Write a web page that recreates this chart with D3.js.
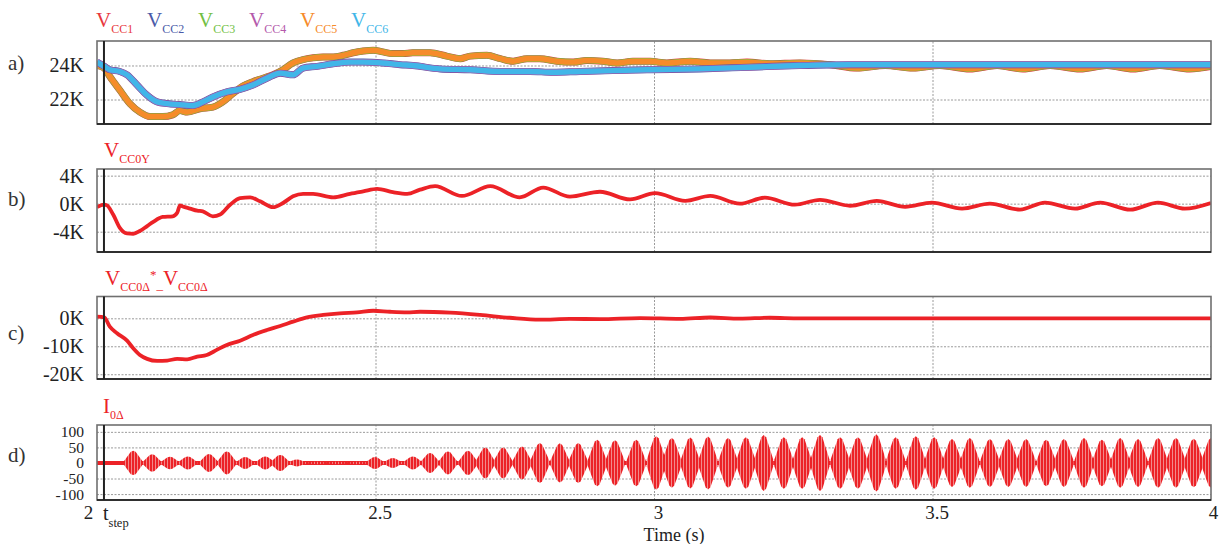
<!DOCTYPE html>
<html>
<head>
<meta charset="utf-8">
<script src="https://cdn.jsdelivr.net/npm/d3@7"></script>
<style>
  body { margin: 0; background: #fff; }
  svg, svg text, svg tspan { font-family: "Liberation Serif", "DejaVu Serif", serif !important; }
</style>
</head>
<body>
<svg width="1224" height="544"></svg>
<script>
// ---- data ----
const legendNames = ["CC1", "CC2", "CC3", "CC4", "CC5", "CC6"];
const legendColors = ["#e8383d", "#4a5aa8", "#72bf44", "#b45aab", "#f68b2a", "#41b6e8"];

// V_CC1 / V_CC3 / V_CC5 (orange group), values in K
const tGroupA = [2.000, 2.013, 2.023, 2.041, 2.059, 2.077, 2.095, 2.118, 2.136, 2.149, 2.162, 2.185, 2.208, 2.226, 2.244, 2.262, 2.280, 2.298, 2.316, 2.334, 2.352, 2.370, 2.388, 2.406, 2.424, 2.442, 2.460, 2.478, 2.496, 2.513, 2.531, 2.549, 2.567, 2.598, 2.628, 2.652, 2.670, 2.700, 2.724, 2.747, 2.772, 2.795, 2.826, 2.855, 2.880, 2.908, 2.934, 2.962, 2.993, 3.023, 3.065, 3.101, 3.136, 3.167, 3.208, 3.262, 3.316, 3.364, 3.415, 3.465, 3.513, 3.567, 3.616, 3.662, 3.711, 3.765, 3.813, 3.860, 3.908, 3.962, 4.000];
const vGroupA = [24.0, 23.85, 23.35, 22.55, 21.76, 21.26, 21.0, 21.0, 21.1, 21.35, 21.26, 21.46, 21.55, 21.86, 22.35, 22.8, 23.05, 23.25, 23.45, 23.75, 24.15, 24.35, 24.45, 24.5, 24.5, 24.6, 24.75, 24.85, 24.9, 24.8, 24.7, 24.7, 24.75, 24.75, 24.55, 24.4, 24.55, 24.6, 24.4, 24.25, 24.4, 24.4, 24.25, 24.2, 24.3, 24.25, 24.15, 24.25, 24.25, 24.15, 24.25, 24.15, 24.15, 24.2, 24.1, 24.15, 24.05, 23.85, 24.0, 23.85, 24.0, 23.8, 24.0, 23.8, 24.0, 23.8, 24.0, 23.8, 24.0, 23.8, 23.95];

// V_CC2 / V_CC4 / V_CC6 (cyan group), values in K
const tGroupB = [2.000, 2.013, 2.023, 2.041, 2.054, 2.072, 2.090, 2.108, 2.126, 2.149, 2.172, 2.190, 2.208, 2.233, 2.257, 2.280, 2.305, 2.329, 2.352, 2.370, 2.395, 2.424, 2.454, 2.478, 2.513, 2.544, 2.567, 2.616, 2.670, 2.724, 2.777, 2.819, 2.867, 2.926, 2.993, 3.083, 3.172, 3.262, 3.352, 3.442, 3.621, 3.801, 4.000];
const vGroupB = [24.2, 23.95, 23.75, 23.65, 23.45, 22.85, 22.25, 21.86, 21.76, 21.7, 21.65, 21.86, 22.15, 22.45, 22.6, 22.85, 23.25, 23.55, 23.45, 23.85, 23.95, 24.1, 24.2, 24.2, 24.15, 24.05, 24.0, 23.8, 23.75, 23.65, 23.65, 23.6, 23.65, 23.7, 23.75, 23.8, 23.9, 24.0, 24.05, 24.05, 24.05, 24.05, 24.05];

// V_CC0Y, values in K
const tCC0Y = [2.000, 2.013, 2.018, 2.029, 2.041, 2.054, 2.065, 2.077, 2.090, 2.101, 2.118, 2.136, 2.144, 2.149, 2.154, 2.167, 2.180, 2.190, 2.208, 2.221, 2.239, 2.257, 2.275, 2.293, 2.316, 2.334, 2.352, 2.370, 2.388, 2.424, 2.454, 2.478, 2.503, 2.531, 2.557, 2.580, 2.607, 2.655, 2.706, 2.759, 2.801, 2.849, 2.903, 2.957, 3.002, 3.056, 3.101, 3.154, 3.199, 3.253, 3.298, 3.352, 3.400, 3.451, 3.499, 3.553, 3.603, 3.657, 3.702, 3.756, 3.801, 3.855, 3.905, 3.953, 4.000];
const vCC0Y = [-0.5, -0.15, -0.25, -1.55, -3.45, -4.25, -4.3, -3.9, -3.2, -2.6, -1.9, -1.8, -1.3, -0.25, -0.4, -0.7, -1.0, -1.1, -1.8, -1.55, -0.15, 0.8, 0.9, 0.33, -0.5, 0.1, 1.05, 1.4, 1.4, 0.9, 1.4, 1.75, 2.1, 1.65, 1.4, 2.0, 2.5, 1.1, 2.5, 0.9, 2.3, 1.0, 1.7, 0.6, 1.5, 0.4, 1.1, 0.0, 0.85, -0.15, 0.55, -0.3, 0.4, -0.45, 0.15, -0.7, 0.0, -0.85, 0.15, -0.7, 0.15, -0.85, 0.15, -0.7, 0.1];

// V_CC0Δ* - V_CC0Δ, values in K
const tCC0D = [2.000, 2.013, 2.023, 2.036, 2.054, 2.065, 2.077, 2.090, 2.108, 2.126, 2.144, 2.162, 2.180, 2.197, 2.215, 2.233, 2.257, 2.280, 2.305, 2.329, 2.352, 2.377, 2.406, 2.436, 2.467, 2.496, 2.526, 2.557, 2.580, 2.634, 2.688, 2.741, 2.795, 2.849, 2.903, 2.975, 3.047, 3.101, 3.154, 3.208, 3.262, 3.442, 3.621, 3.801, 4.000];
const vCC0D = [0.6, 0.35, -3.0, -5.35, -8.0, -10.7, -13.1, -14.5, -15.25, -15.1, -14.5, -14.65, -13.7, -13.1, -11.3, -9.5, -8.0, -5.95, -4.2, -2.75, -1.2, 0.35, 1.2, 1.8, 2.15, 2.7, 2.35, 2.15, 2.35, 2.0, 1.2, 0.2, -0.5, -0.2, -0.3, 0.1, -0.2, 0.3, -0.1, 0.2, 0.0, 0.0, 0.0, 0.0, 0.0];

// I_0Δ: time of each beat burst and its peak amplitude
const tBurst = [2.065, 2.099, 2.131, 2.163, 2.201, 2.233, 2.266, 2.302, 2.329, 2.359, 2.395, 2.431, 2.467, 2.499, 2.531, 2.567, 2.598, 2.630, 2.666, 2.697, 2.729, 2.763, 2.795, 2.831, 2.864, 2.898, 2.930, 2.968, 3.004, 3.032, 3.065, 3.097, 3.133, 3.165, 3.197, 3.233, 3.266, 3.298, 3.334, 3.366, 3.399, 3.434, 3.470, 3.503, 3.535, 3.567, 3.603, 3.636, 3.668, 3.704, 3.736, 3.772, 3.804, 3.837, 3.869, 3.905, 3.937, 3.969, 4.000];
const aBurst = [39, 28, 20, 21, 29, 37, 19, 21, 26, 11, 4, 4, 4, 19, 16, 21, 32, 37, 39, 50, 50, 53, 64, 63, 64, 75, 73, 75, 86, 80, 82, 85, 80, 83, 90, 83, 83, 90, 83, 83, 92, 83, 86, 83, 77, 80, 77, 77, 77, 75, 77, 80, 75, 80, 77, 80, 80, 78, 80];

const tStep = 2.0125;
const xTicks = [2, 2.5, 3, 3.5, 4];
const xGrid = [2.5, 3, 3.5];

// ---- layout ----
const FONT = '"Liberation Serif", "DejaVu Serif", serif';
const svg = d3.select("svg").style("font-family", FONT);
const red = "#ec2227";
const x = d3.scaleLinear().domain([2, 4]).range([97, 1211]);

const panels = [
  { id: "a", top: 41, bottom: 124, domain: [20.56, 25.44], ticks: [22, 24], fmt: d => d + "K", labelY: 70, fs: 20 },
  { id: "b", top: 169, bottom: 252, domain: [-6.9, 4.95], ticks: [-4, 0, 4], fmt: d => d + "K", labelY: 206, fs: 20 },
  { id: "c", top: 296.5, bottom: 379, domain: [-21.7, 7.8], ticks: [-20, -10, 0], fmt: d => d + "K", labelY: 340, fs: 20 },
  { id: "d", top: 425, bottom: 500, domain: [-119, 122], ticks: [-100, -50, 0, 50, 100], fmt: d => d, labelY: 462, fs: 15.5 }
];

const defs = svg.append("defs");
const pat = defs.append("pattern").attr("id", "spikes")
  .attr("patternUnits", "userSpaceOnUse").attr("width", 3).attr("height", 10);
pat.append("rect").attr("width", 3).attr("height", 10).attr("fill", "#f4a3a3");
pat.append("rect").attr("width", 2.2).attr("height", 10).attr("fill", red);

// text with sub/superscripts; shift is offset from baseline
function richText(g, px, py, parts, color) {
  const t = g.append("text").attr("x", px).attr("y", py).attr("fill", color).style("font-family", FONT);
  let prev = 0;
  parts.forEach(p => {
    const s = p.shift || 0;
    t.append("tspan").attr("font-size", p.size).attr("dy", s - prev).text(p.text);
    prev = s;
  });
  return t;
}

panels.forEach(p => {
  p.y = d3.scaleLinear().domain(p.domain).range([p.bottom, p.top]);
  const g = svg.append("g");
  p.g = g;

  defs.append("clipPath").attr("id", "clip-" + p.id)
    .append("rect").attr("x", x(2)).attr("y", p.top).attr("width", x(4) - x(2)).attr("height", p.bottom - p.top);

  // grid
  g.append("g").attr("transform", `translate(${x(2)},0)`)
    .call(d3.axisLeft(p.y).tickValues(p.ticks).tickSize(-(x(4) - x(2))).tickFormat(""))
    .call(a => a.select(".domain").remove())
    .selectAll("line").attr("stroke", "#9a9a9a").attr("stroke-dasharray", "2,1.5");
  g.append("g").attr("transform", `translate(0,${p.bottom})`)
    .call(d3.axisBottom(x).tickValues(xGrid).tickSize(-(p.bottom - p.top)).tickFormat(""))
    .call(a => a.select(".domain").remove())
    .selectAll("line").attr("stroke", "#9a9a9a").attr("stroke-dasharray", "2,1.5");

  // tick labels
  g.append("g").attr("transform", `translate(${x(2)},0)`)
    .call(d3.axisLeft(p.y).tickValues(p.ticks).tickSize(0).tickPadding(13).tickFormat(p.fmt))
    .call(a => a.select(".domain").remove())
    .attr("font-family", null)
    .selectAll("text").attr("font-size", p.fs).attr("fill", "#222").style("font-family", FONT);

  g.append("text").attr("x", 8).attr("y", p.labelY).attr("font-size", 21).attr("fill", "#333")
    .style("font-family", FONT).text(p.id + ")");
  p.plot = g.append("g").attr("clip-path", `url(#clip-${p.id})`);
});

// ---- panel a ----
const pa = panels[0];
const lineA = d3.line().x(d => x(d[0])).y(d => pa.y(d[1])).curve(d3.curveMonotoneX);
const dataA = tGroupA.map((t, i) => [t, vGroupA[i]]);
const dataB = tGroupB.map((t, i) => [t, vGroupB[i]]);
[[dataA, [[legendColors[0], 7], [legendColors[2], 6.4], [legendColors[4], 5.4]]],
 [dataB, [[legendColors[1], 7], [legendColors[3], 6.4], [legendColors[5], 5.4]]]]
  .forEach(([data, strokes]) => {
    strokes.forEach(([c, w]) => {
      pa.plot.append("path").datum(data).attr("d", lineA)
        .attr("fill", "none").attr("stroke", c).attr("stroke-width", w).attr("stroke-linejoin", "round");
    });
  });

// ---- panel b / c ----
[[panels[1], tCC0Y, vCC0Y], [panels[2], tCC0D, vCC0D]].forEach(([p, ts, vs]) => {
  const ln = d3.line().x(d => x(d[0])).y(d => p.y(d[1])).curve(d3.curveMonotoneX);
  p.plot.append("path").datum(ts.map((t, i) => [t, vs[i]])).attr("d", ln)
    .attr("fill", "none").attr("stroke", red).attr("stroke-width", 3.8).attr("stroke-linejoin", "round");
});

// ---- panel d ----
const pd = panels[3];
pd.plot.append("line").attr("x1", x(2)).attr("x2", x(4)).attr("y1", pd.y(0)).attr("y2", pd.y(0))
  .attr("stroke", red).attr("stroke-width", 4);
const half = 9.5;
const lens = d3.area().x(d => d[0]).y0(d => pd.y(-d[1])).y1(d => pd.y(d[1])).curve(d3.curveLinear);
tBurst.forEach((t, i) => {
  const cx = x(t), a = aBurst[i];
  const pts = [[cx - half, a * 0.12], [cx - half * 0.6, a * 0.55], [cx - half * 0.25, a * 0.92], [cx, a],
               [cx + half * 0.25, a * 0.92], [cx + half * 0.6, a * 0.55], [cx + half, a * 0.12]];
  pd.plot.append("path").attr("d", lens(pts)).attr("fill", "url(#spikes)");
});

// ---- frames + t_step marker ----
panels.forEach(p => {
  p.g.append("rect").attr("x", x(2)).attr("y", p.top).attr("width", x(4) - x(2)).attr("height", p.bottom - p.top)
    .attr("fill", "none").attr("stroke", "#707070").attr("stroke-width", 1.6);
  p.g.append("line").attr("x1", x(2)).attr("x2", x(4)).attr("y1", p.bottom).attr("y2", p.bottom)
    .attr("stroke", "#111").attr("stroke-width", 1.6);
  p.g.append("line").attr("x1", x(tStep)).attr("x2", x(tStep)).attr("y1", p.top).attr("y2", p.bottom)
    .attr("stroke", "#222").attr("stroke-width", 2);
});

// ---- x axis ----
const xa = svg.append("g").attr("transform", `translate(0,${pd.bottom})`)
  .call(d3.axisBottom(x).tickValues(xTicks).tickSize(0).tickPadding(6).tickFormat(d => d))
  .call(a => a.select(".domain").remove())
  .attr("font-family", null);
xa.selectAll("text").attr("font-size", 19).attr("fill", "#222").style("font-family", FONT)
  .attr("dx", d => d === 2 ? -9 : (d === 4 ? 2 : 4));
richText(svg, x(tStep) - 1, 520, [{ text: "t", size: 20 }, { text: "step", size: 12.5, shift: 7 }], "#222");
svg.append("text").attr("x", 674).attr("y", 541).attr("text-anchor", "middle")
  .attr("font-size", 18).attr("fill", "#222").style("font-family", FONT).text("Time (s)");

// ---- legend and panel titles ----
legendNames.forEach((n, i) => {
  richText(svg, 96 + i * 51, 27, [{ text: "V", size: 21 }, { text: n, size: 12, shift: 6 }], legendColors[i]);
});
richText(svg, 104, 157, [{ text: "V", size: 21 }, { text: "CC0Y", size: 12, shift: 6 }], red);
richText(svg, 105, 285, [
  { text: "V", size: 21 }, { text: "CC0Δ", size: 12, shift: 6 }, { text: "*", size: 13, shift: -6 },
  { text: "_", size: 13, shift: 4 }, { text: "V", size: 21 }, { text: "CC0Δ", size: 12, shift: 6 }
], red);
richText(svg, 103, 413, [{ text: "I", size: 21 }, { text: "0Δ", size: 12, shift: 6 }], red);
</script>
</body>
</html>
